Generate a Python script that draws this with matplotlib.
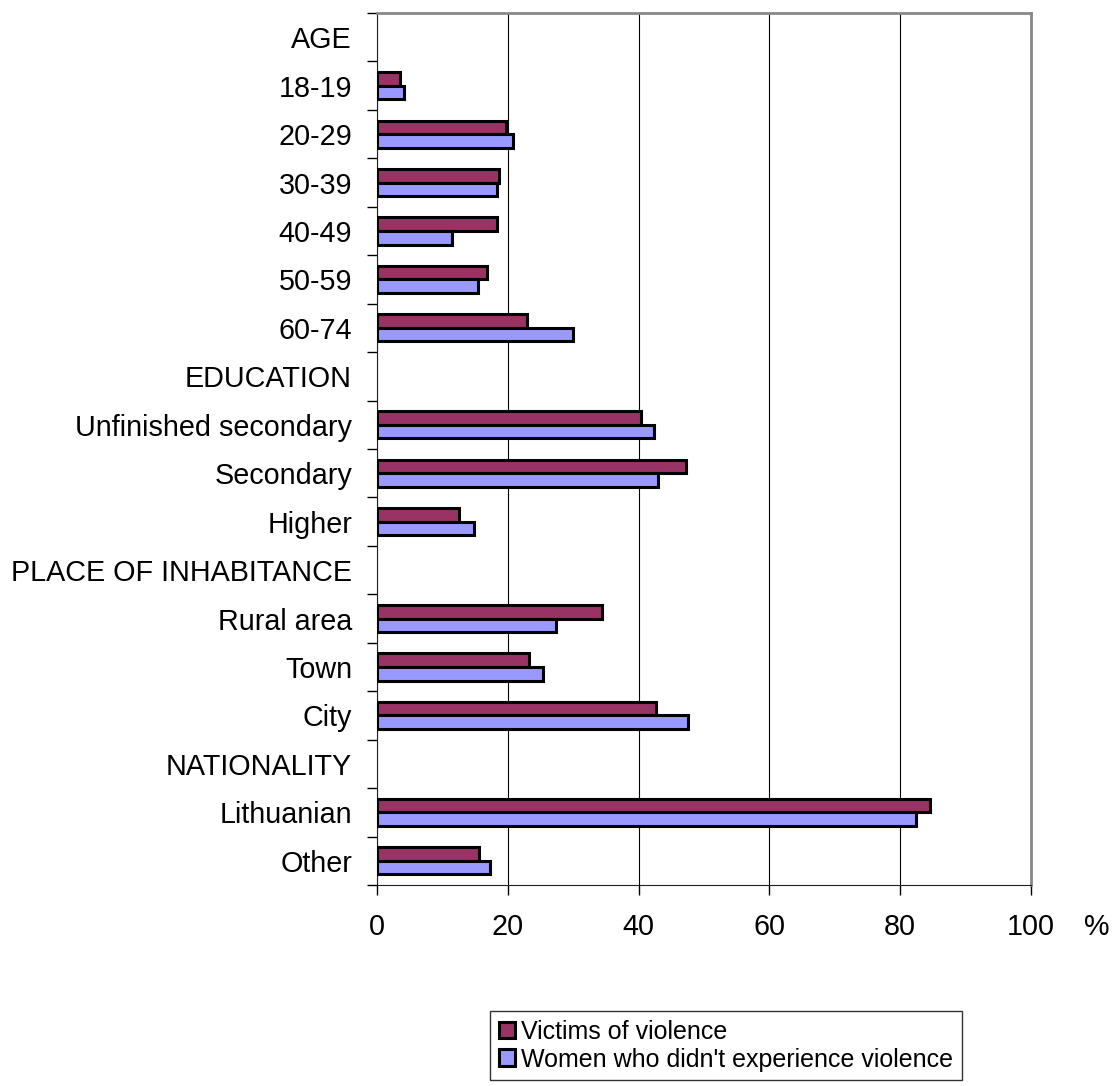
import matplotlib.pyplot as plt
import numpy as np

plt.rcParams['font.family'] = ['Liberation Sans', 'DejaVu Sans']

# categories top to bottom, headers have no bars
categories = ['AGE', '18-19', '20-29', '30-39', '40-49', '50-59', '60-74',
              'EDUCATION', 'Unfinished secondary', 'Secondary', 'Higher',
              'PLACE OF INHABITANCE', 'Rural area', 'Town', 'City',
              'NATIONALITY', 'Lithuanian', 'Other']
victims = [None, 3.5, 19.8, 18.7, 18.3, 16.8, 23.0,
           None, 40.4, 47.3, 12.5,
           None, 34.4, 23.2, 42.7,
           None, 84.6, 15.6]
others = [None, 4.1, 20.8, 18.3, 11.5, 15.5, 29.9,
          None, 42.4, 42.9, 14.9,
          None, 27.4, 25.4, 47.6,
          None, 82.4, 17.3]
xticks = [0, 20, 40, 60, 80, 100]

fig = plt.figure(figsize=(11.15, 10.86), dpi=100)
ax = fig.add_axes([377/1115, 1-885/1086, (1031-377)/1115, (885-13)/1086])

h = 0.28
pos = np.arange(len(categories))
for i in range(len(categories)):
    if victims[i] is not None:
        ax.barh(pos[i] - h/2, victims[i], height=h, color='#993366',
                edgecolor='black', linewidth=2.2, zorder=3)
    if others[i] is not None:
        ax.barh(pos[i] + h/2, others[i], height=h, color='#9999FF',
                edgecolor='black', linewidth=2.2, zorder=3)

ax.set_xlim(0, 100)
ax.set_ylim(len(categories) - 0.5, -0.5)
ax.set_xticks(xticks)
ax.set_xticklabels([str(t) for t in xticks], fontsize=20.7)
ax.tick_params(axis='x', direction='out', length=7, width=1, pad=13)

ax.set_yticks(pos)
ax.set_yticklabels(categories, fontsize=20.7)
ax.tick_params(axis='y', which='major', length=0, pad=18)
ax.set_yticks(np.arange(len(categories) + 1) - 0.5, minor=True)
ax.tick_params(axis='y', which='minor', direction='out', length=7, width=1)

ax.grid(axis='x', color='black', linewidth=0.8, zorder=0)
ax.set_axisbelow(True)

ax.spines['left'].set_color('#222222')
ax.spines['bottom'].set_color('#222222')
ax.spines['top'].set_color('#888888')
ax.spines['right'].set_color('#888888')
ax.spines['top'].set_linewidth(2)
ax.spines['right'].set_linewidth(2)

fig.text(1097/1115, 1-927/1086, '%', fontsize=20.7, ha='center', va='center')

leg = fig.legend(['Victims of violence', "Women who didn't experience violence"],
                 loc='upper left', bbox_to_anchor=(490/1115, 1-1011/1086),
                 fontsize=18, frameon=True, fancybox=False, edgecolor='black',
                 handlelength=0.65, handleheight=0.65, handletextpad=0.25,
                 borderpad=0.35, labelspacing=0.15, borderaxespad=0)
leg.get_frame().set_linewidth(1)

plt.savefig('out.png', dpi=100)
